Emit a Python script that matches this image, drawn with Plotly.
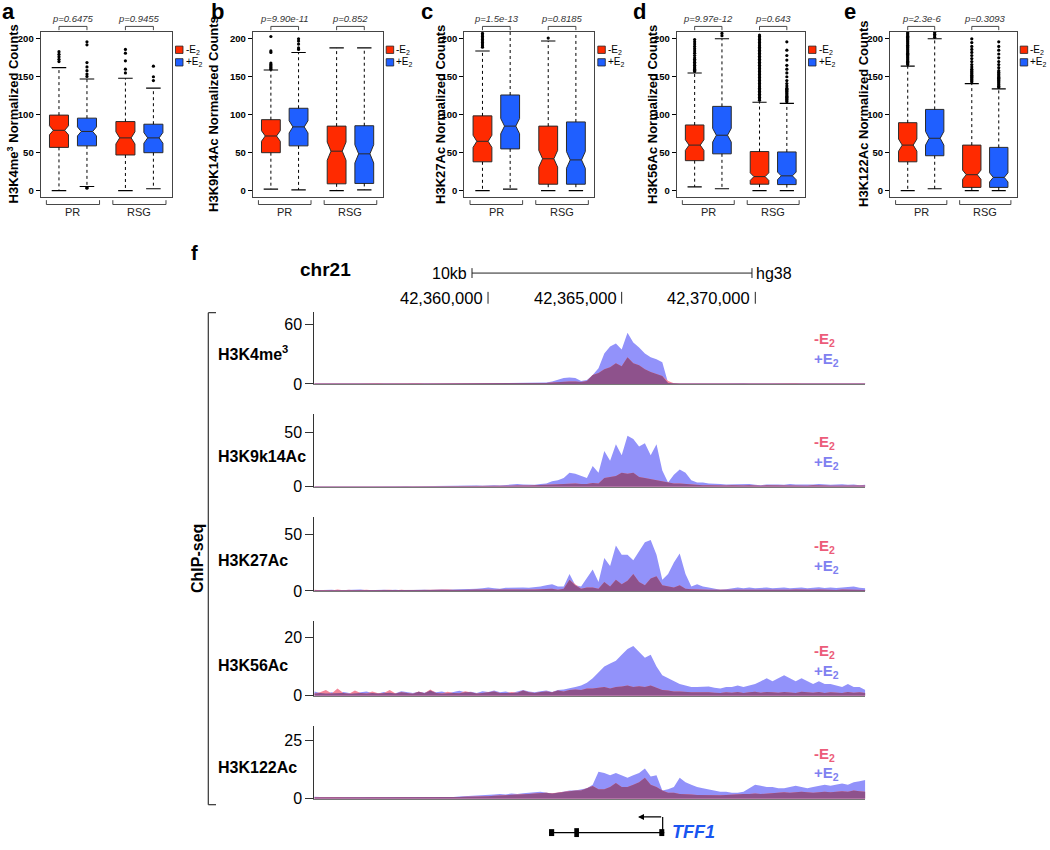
import numpy as np
import plotly.graph_objects as go

W, H = 1050, 850
FONT = "Liberation Sans, Arial, Helvetica, sans-serif"


def xp(v):
    return v / W


def yp(v):
    return 1 - v / H


# ------------------------------------------------------------------ data: box panels
panel_letters = ["a", "b", "c", "d", "e"]
box_titles = ["H3K4me<sup>3</sup> Normalized Counts", "H3K9K14Ac Normalized Counts",
              "H3K27Ac Normalized Counts", "H3K56Ac Normalized Counts",
              "H3K122Ac Normalized Counts"]
groups = ["PR", "RSG"]
conditions = ["-E<sub>2</sub>", "+E<sub>2</sub>"]
p_pr = ["p=0.6475", "p=9.90e-11", "p=1.5e-13", "p=9.97e-12", "p=2.3e-6"]
p_rsg = ["p=0.9455", "p=0.852", "p=0.8185", "p=0.643", "p=0.3093"]

# order inside each panel: PR -E2, PR +E2, RSG -E2, RSG +E2
box_q1 = [[57, 59, 47, 50], [50, 59, 9, 9.5], [38, 55, 8.5, 8.5], [39.5, 48.5, 8.5, 8], [38, 46, 4.3, 4.3]]
box_med = [[79.5, 78, 69.5, 69.5], [72, 84, 52, 48.5], [65, 85, 42, 40.5], [60, 73, 18.5, 19.5], [60, 69, 21, 17.5]]
box_q3 = [[99.5, 95.5, 91, 87.5], [93.5, 108.5, 85, 85.5], [98.5, 126, 85, 90.5], [86.5, 111, 51.5, 51], [89.5, 107, 60, 57]]
box_lo = [[0, 5.5, 0, 2.5], [2, 1, 0, 1], [0, 2, 0, 0], [5, 2.5, 0, 0], [0, 2.5, 0, 0]]
box_hi = [[162, 147, 148, 135], [159, 182, 188, 188], [184, 230, 197, 230], [155, 200, 116.5, 115], [164, 200, 141, 134]]
box_notch = [[6, 6, 8, 7], [7, 8, 12, 12], [8, 10, 11, 11], [7, 9, 5, 5], [8, 9, 6, 6]]

outliers = [
    [[170, 173, 176.5, 179.6, 183],
     [3.2, 4.2, 150.4, 153.5, 158, 163, 168.7, 192, 196],
     [155, 160, 171, 181, 186],
     [145, 150, 164]],
    [[160, 161.5, 163, 164.5, 166, 168, 182, 184, 203],
     [186, 188, 193, 197, 200],
     [],
     []],
    [[189, 191, 193, 195, 197, 199, 201, 203, 205, 207],
     [],
     [201],
     []],
    [[157, 158.5, 160, 161.5, 163, 165, 167, 169, 171, 173, 175, 178, 181, 184, 187, 190, 193, 196, 199],
     [204, 207],
     [119, 121, 123, 125, 127, 129, 131, 133, 135, 137, 139, 141, 143, 145, 147, 149, 151, 153, 155, 157,
      159, 161, 163, 165, 167, 169, 171, 173, 175, 177, 179, 181, 183, 185, 187, 189, 191, 193, 195, 197,
      199, 201, 203, 205],
     [117, 118.5, 120, 121.5, 123, 124.5, 126, 127.5, 129, 130.5, 132, 133.5, 135, 138, 141, 145, 150, 155,
      160, 165, 172, 178, 185, 196]],
    [[166, 167.5, 169, 170.5, 172, 173.5, 175, 176.5, 178, 179.5, 181, 182.5, 184, 185.5, 187, 188.5, 190,
      191.5, 193, 194.5, 196, 197.5, 199, 200.5, 202, 203.5, 205, 206.5, 208],
     [202, 204, 206, 208],
     [143, 144.5, 146, 147.5, 149, 150.5, 152, 153.5, 155, 156.5, 158, 160, 163, 166, 170, 174, 178, 182,
      186, 190, 195, 200],
     [136, 137.5, 139, 140.5, 142, 143.5, 145, 146.5, 148, 149.5, 151, 152.5, 154, 156, 158, 162, 166, 170,
      175, 180, 185, 190, 196]],
]

# ------------------------------------------------------------------ data: genome tracks
region_start = 42353500
bin_size = 217
track_names = ["H3K4me<sup>3</sup>", "H3K9k14Ac", "H3K27Ac", "H3K56Ac", "H3K122Ac"]
track_ticks = [60, 50, 50, 20, 25]
track_ymax = [73.4, 67.3, 64.8, 25.4, 31.1]

k4me3_plus = [0.4, 0.5, 0.3, 0.6, 0.4, 0.5, 0.3, 0.4, 0.6, 0.5,
              0.4, 0.3, 0.5, 0.7, 0.4, 0.5, 0.3, 0.6, 0.4, 0.5,
              0.7, 0.5, 0.4, 0.3, 0.5, 0.4, 0.6, 0.5, 0.4, 0.3,
              0.5, 0.6, 0.4, 0.5, 0.7, 0.6, 0.8, 0.9, 1.0, 1.2,
              1.5, 2.5, 4, 6, 6.5, 6, 3, 4, 9, 16,
              31, 38, 41, 35, 52, 42, 37, 31, 27, 25,
              22, 1, 0.5, 0.4, 0.6, 0.4, 0.5, 0.3, 0.5, 0.6,
              0.4, 0.5, 0.3, 0.4, 0.6, 0.5, 0.4, 0.5, 0.3, 0.6,
              0.4, 0.5, 0.4, 0.3, 0.5, 0.6, 0.4, 0.5, 0.3, 0.4,
              0.5, 0.4, 0.6, 0.3, 0.5, 0.4]
k4me3_minus = [0.5, 0.3, 0.6, 0.4, 0.5, 0.7, 0.4, 0.5, 0.3, 0.6,
               0.5, 0.6, 0.3, 0.4, 0.7, 0.4, 0.5, 0.3, 0.6, 0.4,
               0.4, 0.6, 0.7, 0.4, 0.3, 0.6, 0.4, 0.7, 0.5, 0.4,
               0.6, 0.4, 0.5, 0.7, 0.5, 0.4, 0.6, 0.7, 0.8, 0.9,
               1, 1.5, 2, 2.5, 2.5, 2.5, 2, 3, 9, 11,
               15, 17, 21, 18, 27, 21, 19, 15, 12, 10,
               8, 3, 0.7, 0.5, 0.4, 0.6, 0.4, 0.6, 0.4, 0.5,
               0.6, 0.4, 0.5, 0.6, 0.4, 0.3, 0.6, 0.4, 0.5, 0.4,
               0.6, 0.4, 0.5, 0.6, 0.4, 0.3, 0.6, 0.4, 0.5, 0.6,
               0.4, 0.5, 0.4, 0.5, 0.4, 0.5]

k9k14_plus = [0.5, 0.6, 0.4, 0.5, 0.7, 0.5, 0.4, 0.6, 0.5, 0.4,
              0.5, 0.6, 0.5, 0.4, 0.6, 0.5, 0.7, 0.5, 0.6, 0.5,
              0.6, 0.5, 0.7, 0.6, 0.8, 0.7, 0.9, 1.0, 1.2, 1.0,
              1.3, 1.5, 1.2, 1.8, 2.0, 2.5, 2.2, 2.0, 1.8, 2.5,
              3, 5, 6, 8, 13, 12, 10, 8, 19, 13,
              33, 24, 39, 29, 47, 44, 37, 40, 29, 39,
              15, 4, 11, 16, 13, 6, 4, 4, 3, 3,
              2.5, 2, 2.2, 1.8, 2, 2.5, 1.8, 1.5, 2, 2.2,
              2, 1.8, 2.5, 2.2, 2, 1.8, 2.2, 2.5, 2, 1.8,
              2, 2.3, 1.8, 2, 1.5, 1.8]
k9k14_minus = [0.5, 0.4, 0.6, 0.5, 0.4, 0.6, 0.5, 0.5, 0.4, 0.6,
               0.5, 0.4, 0.6, 0.5, 0.5, 0.6, 0.4, 0.5, 0.6, 0.4,
               0.5, 0.6, 0.5, 0.5, 0.6, 0.5, 0.6, 0.7, 0.6, 0.7,
               0.6, 0.8, 0.7, 0.9, 1.0, 1.2, 1.0, 1.1, 1.3, 1.5,
               1.8, 2, 2.5, 2.5, 3, 3, 2.5, 2.5, 3.5, 3,
               8, 9, 10, 13, 12, 13, 9, 8, 7, 6,
               5, 3.5, 3, 3, 2.5, 2, 1.8, 1.5, 1.5, 1.2,
               1.2, 1.1, 1.3, 1.0, 1.2, 1.4, 1.1, 1.0, 1.3, 1.2,
               1.1, 1.0, 1.4, 1.2, 1.1, 1.0, 1.3, 1.5, 1.2, 1.0,
               1.1, 1.3, 1.0, 1.2, 1.0, 1.1]

k27_plus = [0.6, 0.8, 0.5, 1.0, 0.7, 0.9, 0.6, 0.8, 1.2, 0.7,
            0.9, 0.6, 1.0, 0.8, 1.1, 0.7, 0.9, 1.2, 0.8, 1.0,
            0.8, 1.1, 1.4, 1.0, 1.2, 0.9, 1.3, 1.8, 2.0, 2.5,
            3, 2.5, 2.0, 2.8, 3.0, 2.6, 3.0, 2.8, 3.2, 4.0,
            5, 6, 4, 4, 15, 5, 4, 12, 19, 8,
            29, 22, 40, 32, 32, 27, 35, 43, 45, 32,
            10, 15, 25, 33, 15, 4, 6, 4, 3, 2,
            1, 1.5, 2, 3, 2.5, 3, 2.5, 2.8, 3, 2.5,
            2.8, 3, 2.5, 2.7, 3, 2.5, 2.8, 3.2, 2.6, 3,
            2.7, 3, 3.2, 4, 2.8, 2.5]
k27_minus = [1.0, 0.6, 0.9, 0.5, 1.2, 0.6, 1.0, 0.5, 0.8, 1.1,
             0.6, 0.9, 0.7, 1.1, 0.6, 1.0, 0.7, 0.8, 1.1, 0.6,
             1.0, 0.8, 0.9, 1.2, 0.8, 1.1, 0.9, 1.0, 1.2, 1.0,
             1.2, 1.1, 1.3, 1.0, 1.2, 1.4, 1.1, 1.3, 1.2, 1.5,
             2, 2, 1, 2, 10, 6, 2, 3, 3, 2,
             8, 4, 10, 6, 9, 15, 8, 5, 11, 13,
             5, 4, 3, 5, 2, 1.5, 1.2, 1, 1, 1,
             0.9, 1.1, 1.0, 1.2, 0.9, 1.0, 1.1, 0.9, 1.2, 1.0,
             1.1, 0.9, 1.0, 1.2, 1.0, 0.9, 1.1, 1.3, 1.0, 1.1,
             0.9, 1.2, 1.0, 1.3, 1.1, 0.9]

k56_plus = [1.5, 1.0, 0.8, 1.2, 0.9, 1.3, 1.0, 0.8, 1.2, 1.5,
            1.0, 0.8, 1.3, 1.1, 0.9, 1.6, 1.2, 1.0, 1.4, 1.1,
            1.8, 1.2, 1.5, 1.0, 1.3, 1.7, 1.2, 1.4, 1.0, 1.6,
            1.3, 1.8, 1.2, 1.5, 1.0, 1.4, 2.0, 1.5, 1.2, 1.6,
            1.8, 1.3, 2.0, 2.2, 2.5, 3, 3.5, 4.5, 6, 8,
            10, 11, 12, 14, 16, 17, 15, 13, 14, 10,
            7, 6, 5, 4, 3.5, 3, 3, 3, 3.2, 2.8,
            2.5, 3, 3, 3.5, 3, 3.5, 4, 5, 6, 5,
            6, 7, 6, 5, 6, 5, 4, 5, 4, 4,
            3.5, 3, 4, 3, 3, 2]
k56_minus = [0.8, 1.2, 2.0, 0.8, 2.5, 1.0, 0.7, 1.8, 1.0, 0.8,
             1.5, 0.9, 1.0, 2.0, 0.8, 1.2, 1.0, 0.7, 1.5, 0.9,
             2.2, 1.0, 0.8, 1.4, 1.0, 0.9, 1.6, 1.2, 0.8, 1.0,
             1.2, 1.5, 1.0, 0.9, 1.3, 1.1, 1.8, 1.2, 1.0, 1.3,
             1.5, 1.2, 1.8, 1.5, 2.0, 2.2, 2.0, 2.5, 2.5, 2.8,
             3, 2.5, 3, 3.2, 3.5, 3, 3.3, 3, 3.5, 2.8,
             2, 1.8, 1.5, 1.5, 1.3, 1.2, 1.2, 1.3, 1.2, 1.1,
             1.0, 1.2, 1.1, 1.3, 1.0, 1.2, 1.4, 1.1, 1.3, 1.2,
             1.1, 1.3, 1.2, 1.0, 1.4, 1.2, 1.1, 1.3, 1.0, 1.2,
             1.1, 1.0, 1.3, 1.1, 1.2, 1.0]

k122_plus = [0.8, 0.6, 0.7, 0.5, 0.6, 0.5, 0.7, 0.6, 0.5, 0.6,
             0.5, 0.6, 0.4, 0.5, 0.6, 0.5, 0.4, 0.5, 0.6, 0.5,
             0.6, 0.7, 0.6, 0.8, 0.7, 0.9, 1.0, 1.2, 1.5, 1.3,
             1.6, 1.8, 2.0, 1.8, 2.2, 2.0, 2.3, 2.5, 2.8, 3.0,
             2.5, 2.2, 2.5, 3, 3.5, 3.5, 4, 4.5, 6, 11.5,
             11, 10, 11, 10, 9, 10, 11, 13, 9.5, 10,
             3.5, 4, 5, 9, 7, 6, 5, 4.5, 4, 3.5,
             3, 3, 2.5, 2.5, 3, 4.5, 6, 5.5, 5, 5,
             4.5, 4.5, 5, 5.5, 5, 4.5, 5, 5.5, 6, 5.5,
             6, 6.5, 6, 7, 7.5, 8]
k122_minus = [0.6, 0.7, 0.5, 0.6, 0.7, 0.6, 0.5, 0.7, 0.6, 0.5,
              0.6, 0.5, 0.6, 0.6, 0.5, 0.6, 0.5, 0.6, 0.5, 0.6,
              0.5, 0.6, 0.7, 0.6, 0.6, 0.7, 0.8, 0.8, 0.9, 1.0,
              1.0, 1.2, 1.3, 1.5, 1.6, 1.5, 1.8, 2.0, 2.2, 2.4,
              2.5, 2.3, 2.5, 3, 3.3, 3.5, 3.5, 4.5, 5.4, 4,
              4, 5, 6.7, 5, 5, 6, 7, 9, 6, 5,
              3.5, 2.5, 2.5, 2, 2, 1.8, 1.6, 1.5, 1.5, 1.6,
              1.5, 1.6, 1.8, 2, 2, 2, 2.2, 2, 2.2, 2.5,
              2.5, 2.8, 2.5, 2.8, 3, 2.8, 2.5, 2.8, 3, 2.8,
              3, 3.2, 3, 3.5, 3.2, 3]

tracks_plus = [k4me3_plus, k9k14_plus, k27_plus, k56_plus, k122_plus]
tracks_minus = [k4me3_minus, k9k14_minus, k27_minus, k56_minus, k122_minus]

ruler_ticks = [42360000, 42365000, 42370000]
scalebar = [42359400, 42369875]
scalebar_label = "10kb"
assembly = "hg38"
chrom = "chr21"

gene_name = "TFF1"
gene_start, gene_end = 42362282, 42366594
gene_exons = [(42362282, 42362475), (42363227, 42363402), (42366407, 42366594)]
tss_arrow_tip = 42365610

# ------------------------------------------------------------------ layout constants
RED = "#ff2a00"
BLUE = "#1f5fff"
BLUE_FILL = "rgb(146,146,250)"
PINK_FILL = "rgb(245,135,155)"
PURPLE_FILL = "rgb(142,82,140)"
PINK_TXT = "rgb(236,92,122)"
LAV_TXT = "rgb(128,128,240)"

box_pos = [1.0, 2.0, 3.375, 4.375]
box_width = 0.68
cap_half = 0.26
x_range_box = [0.343, 5.04]
y_range_box = [-8.2, 209]
frame_left = [40.6, 252.7, 464.3, 676.7, 890.0]
frame_right = [172.0, 382.7, 594.3, 805.0, 1016.7]
frame_top, frame_bottom = 32.3, 199.0
title_x = [13.0, 213.5, 440.5, 652.5, 863.5]
letter_x = [8.5, 217.0, 427.0, 639.0, 850.0]

track_left, track_right = 314.3, 865.3
track_base = [388.0, 492.0, 597.3, 703.3, 807.2]
track_top = [315.0, 418.0, 523.0, 628.0, 734.0]

fig = go.Figure()
shapes = []
annotations = []


def ann(text, x, y, size, xanchor="center", yanchor="middle", bold=False, italic=False,
        color="black", xref="paper", yref="paper", angle=0, xshift=0):
    annotations.append(dict(
        text=text, x=x, y=y, xref=xref, yref=yref, xanchor=xanchor, yanchor=yanchor,
        showarrow=False, textangle=angle, xshift=xshift,
        font=dict(family=FONT, size=size, color=color,
                  weight="bold" if bold else "normal",
                  style="italic" if italic else "normal")))


def pline(x0, y0, x1, y1, width=1, color="black", xref="paper"):
    shapes.append(dict(type="line", xref=xref, yref="paper",
                       x0=x0, x1=x1, y0=y0, y1=y1,
                       line=dict(color=color, width=width)))


# ------------------------------------------------------------------ box panels
for k in range(5):
    n = k + 1
    xa, ya = f"x{n}", f"y{n}"
    wx, wy, cx, cy = [], [], [], []
    for i in range(4):
        p = box_pos[i]
        wx += [p, p, None, p, p, None]
        wy += [box_q3[k][i], box_hi[k][i], None, box_q1[k][i], box_lo[k][i], None]
        cx += [p - cap_half, p + cap_half, None, p - cap_half, p + cap_half, None]
        cy += [box_hi[k][i], box_hi[k][i], None, box_lo[k][i], box_lo[k][i], None]
    fig.add_trace(go.Scatter(x=wx, y=wy, mode="lines", xaxis=xa, yaxis=ya,
                             line=dict(color="black", width=1, dash="dot"),
                             hoverinfo="skip", showlegend=False))
    fig.add_trace(go.Scatter(x=cx, y=cy, mode="lines", xaxis=xa, yaxis=ya,
                             line=dict(color="black", width=1.1),
                             hoverinfo="skip", showlegend=False))
    for c, col in enumerate([RED, BLUE]):
        idx = [c, c + 2]
        fig.add_trace(go.Box(
            x=[box_pos[i] for i in idx],
            q1=[box_q1[k][i] for i in idx],
            median=[box_med[k][i] for i in idx],
            q3=[box_q3[k][i] for i in idx],
            lowerfence=[box_q1[k][i] for i in idx],
            upperfence=[box_q3[k][i] for i in idx],
            notched=True, notchspan=[box_notch[k][i] for i in idx], notchwidth=0.2,
            width=box_width, fillcolor=col, line=dict(color="#2a2a2a", width=1),
            boxpoints=False, whiskerwidth=0, xaxis=xa, yaxis=ya,
            hoverinfo="skip", showlegend=False))
    ox, oy = [], []
    for i in range(4):
        ox += [box_pos[i]] * len(outliers[k][i])
        oy += outliers[k][i]
    fig.add_trace(go.Scatter(x=ox, y=oy, mode="markers", xaxis=xa, yaxis=ya,
                             marker=dict(color="black", size=3.2),
                             hoverinfo="skip", showlegend=False))

    dom_x = [xp(frame_left[k]), xp(frame_right[k])]
    dom_y = [yp(frame_bottom), yp(frame_top)]
    fig.update_layout(**{
        f"xaxis{n}": dict(domain=dom_x, range=x_range_box, anchor=ya, showline=True, mirror=True,
                          linecolor="#444", linewidth=1, ticks="", showticklabels=False,
                          showgrid=False, zeroline=False, fixedrange=True),
        f"yaxis{n}": dict(domain=dom_y, range=y_range_box, anchor=xa, showline=True, mirror=True,
                          linecolor="#444", linewidth=1, ticks="outside", ticklen=4, tickwidth=1,
                          tickcolor="black", tickvals=[0, 50, 100, 150, 200],
                          tickfont=dict(family=FONT, size=9.5, color="black", weight="bold"),
                          showgrid=False, zeroline=False, fixedrange=True),
    })
    ann(panel_letters[k], xp(letter_x[k]), yp(12), 22, bold=True)
    ann(box_titles[k], xp(title_x[k]), yp((frame_top + frame_bottom) / 2), 13, bold=True, angle=-90)
    for g, ptxt in enumerate([p_pr[k], p_rsg[k]]):
        a, b = box_pos[2 * g], box_pos[2 * g + 1]
        pline(a, yp(26.7), b, yp(26.7), 0.9, "#333", xa)
        pline(a, yp(26.7), a, yp(30.5), 0.9, "#333", xa)
        pline(b, yp(26.7), b, yp(30.5), 0.9, "#333", xa)
        ann(ptxt, (a + b) / 2, yp(19), 9.5, italic=True, color="#333", xref=xa)
    for g in range(2):
        mid = (box_pos[2 * g] + box_pos[2 * g + 1]) / 2
        a, b = mid - 0.95, mid + 0.95
        pline(a, yp(206.7), b, yp(206.7), 0.9, "#333", xa)
        pline(a, yp(206.7), a, yp(202.3), 0.9, "#333", xa)
        pline(b, yp(206.7), b, yp(202.3), 0.9, "#333", xa)
        ann(groups[g], mid, yp(214.5), 11, color="#222", xref=xa)
    fr = frame_right[k]
    for c, col in enumerate([RED, BLUE]):
        ly = [50.3, 63.0][c]
        shapes.append(dict(type="rect", xref="paper", yref="paper",
                           x0=xp(fr + 3.5), x1=xp(fr + 11.0), y0=yp(ly + 3.7), y1=yp(ly - 3.7),
                           fillcolor=col, line=dict(color="#222", width=0.8)))
        ann(conditions[c], xp(fr + 11.5), yp(ly), 10, xanchor="left")

# ------------------------------------------------------------------ genome tracks
for t in range(5):
    n = 6 + t
    xa, ya = f"x{n}", f"y{n}"
    plus = np.array(tracks_plus[t], dtype=float)
    minus = np.array(tracks_minus[t], dtype=float)
    pos = region_start + bin_size * np.arange(len(plus))
    for vals, col in [(plus, BLUE_FILL), (minus, PINK_FILL), (np.minimum(plus, minus), PURPLE_FILL)]:
        fig.add_trace(go.Scatter(x=pos, y=vals, mode="lines", fill="tozeroy", fillcolor=col,
                                 line=dict(width=0, color=col), xaxis=xa, yaxis=ya,
                                 hoverinfo="skip", showlegend=False))
    fig.update_layout(**{
        f"xaxis{n}": dict(domain=[xp(track_left), xp(track_right)],
                          range=[region_start, region_start + bin_size * (len(plus) - 1)],
                          anchor=ya, showline=True, linecolor="rgb(120,120,120)", linewidth=1,
                          ticks="", showticklabels=False, showgrid=False, zeroline=False,
                          fixedrange=True),
        f"yaxis{n}": dict(domain=[yp(track_base[t]), yp(track_top[t])], range=[0, track_ymax[t]],
                          anchor=xa, showline=True, linecolor="#333", linewidth=1,
                          ticks="outside", ticklen=8, tickwidth=1, tickcolor="#333",
                          tickvals=[0, track_ticks[t]],
                          tickfont=dict(family=FONT, size=16, color="black"),
                          showgrid=False, zeroline=False, fixedrange=True),
    })
    ann(track_names[t], xp(216), yp(track_base[t] - 31), 16, xanchor="left", bold=True)
    ann(conditions[0], xp(812), yp(track_base[t] - 45), 15, xanchor="left", bold=True, color=PINK_TXT)
    ann(conditions[1], xp(812), yp(track_base[t] - 25), 15, xanchor="left", bold=True, color=LAV_TXT)

# header: ruler
ann("f", xp(194), yp(256), 20, bold=True)
ann(chrom, xp(325), yp(272), 19, bold=True)
ann(scalebar_label, scalebar[0], yp(276), 16, xanchor="right", xref="x6", xshift=-3)
ann(assembly, scalebar[1], yp(276), 16, xanchor="left", xref="x6", xshift=2)
pline(scalebar[0], yp(276), scalebar[1], yp(276), 1, "#222", "x6")
pline(scalebar[0], yp(271), scalebar[0], yp(281), 1, "#222", "x6")
pline(scalebar[1], yp(271), scalebar[1], yp(281), 1, "#222", "x6")
for tk in ruler_ticks:
    pline(tk, yp(295), tk, yp(307), 1, "#222", "x6")
    ann(f"{tk:,}", tk, yp(301), 16.5, xanchor="right", xref="x6", xshift=-3)

# ChIP-seq bracket
pline(xp(208.3), yp(316), xp(208.3), yp(813.3), 1.2, "#333")
pline(xp(208.3), yp(316), xp(216), yp(316), 1.2, "#333")
pline(xp(208.3), yp(813.3), xp(216), yp(813.3), 1.2, "#333")
ann("ChIP-seq", xp(197), yp(565), 16, bold=True, angle=-90)

# gene model
gy = 841.5
pline(gene_start, yp(gy), gene_end, yp(gy), 1.2, "black", "x10")
for (e0, e1), hh in zip(gene_exons, [3.5, 4.5, 3.5]):
    shapes.append(dict(type="rect", xref="x10", yref="paper", x0=e0, x1=e1,
                       y0=yp(gy + hh), y1=yp(gy - hh), fillcolor="black", line=dict(width=0)))
tss_x = gene_end - 60
pline(tss_x, yp(gy), tss_x, yp(825.7), 1.2, "black", "x10")
annotations.append(dict(x=tss_arrow_tip, y=yp(825.7), xref="x10", yref="paper",
                        ax=tss_x, ay=0, axref="x10", ayref="pixel", text="",
                        showarrow=True, arrowhead=2, arrowsize=1, arrowwidth=1.2,
                        arrowcolor="black"))
ann(gene_name, gene_end, yp(gy - 1), 18, xanchor="left", bold=True, italic=True,
    color="rgb(25,85,240)", xref="x10", xshift=6)

fig.update_layout(width=W, height=H, margin=dict(l=0, r=0, t=0, b=0),
                  paper_bgcolor="white", plot_bgcolor="white", showlegend=False,
                  shapes=shapes, annotations=annotations,
                  font=dict(family=FONT, color="black"))
fig.write_html("out.html", config={"displayModeBar": False},
               post_script="document.body.style.margin='0px';")
